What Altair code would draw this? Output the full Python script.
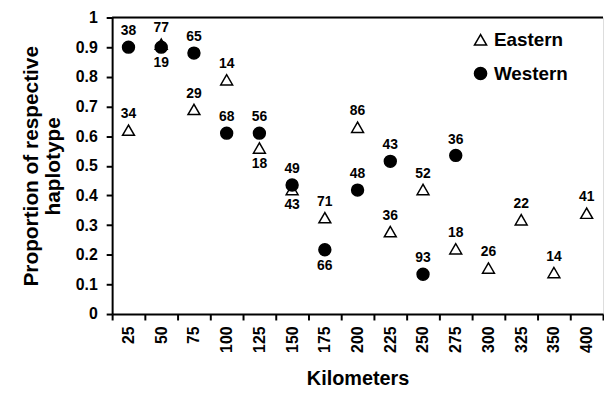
import altair as alt
import pandas as pd

km = ["25", "50", "75", "100", "125", "150", "175", "200", "225", "250",
      "275", "300", "325", "350", "400"]

eastern = [0.62, 0.91, 0.69, 0.79, 0.56, 0.42, 0.325, 0.63, 0.278, 0.42,
           0.22, 0.155, 0.318, 0.14, 0.34]
eastern_n = [34, 77, 29, 14, 18, 43, 71, 86, 36, 52, 18, 26, 22, 14, 41]
eastern_pos = ["above", "above", "above", "above", "below", "below", "above",
               "above", "above", "above", "above", "above", "above", "above", "above"]

western_km = km[:11]
western = [0.90, 0.90, 0.88, 0.61, 0.61, 0.435, 0.217, 0.418, 0.515, 0.134, 0.535]
western_n = [38, 19, 65, 68, 56, 49, 66, 48, 43, 93, 36]
western_pos = ["above", "below", "above", "above", "above", "above", "below",
               "above", "above", "above", "above"]

series = ["Eastern", "Western"]
y_ticks = [0, 0.1, 0.2, 0.3, 0.4, 0.5, 0.6, 0.7, 0.8, 0.9, 1]
frame_top = [1]

rows = []
for k, v, n, p in zip(km, eastern, eastern_n, eastern_pos):
    rows.append(dict(km=k, value=v, n=str(n), pos=p, series="Eastern"))
for k, v, n, p in zip(western_km, western, western_n, western_pos):
    rows.append(dict(km=k, value=v, n=str(n), pos=p, series="Western"))
df = pd.DataFrame(rows)

FONT = "Liberation Sans"
W = 495

x = alt.X(
    "km:N", sort=km,
    scale=alt.Scale(type="band", domain=km, paddingInner=0, paddingOuter=0),
    axis=alt.Axis(
        title="Kilometers", labelAngle=-90, tickBand="extent",
        labelFontSize=16, labelFontWeight="bold", labelFont=FONT, labelColor="black",
        labelPadding=6, tickSize=6, tickColor="black", tickWidth=2, ticks=True,
        domainColor="black", domainWidth=2, labelOverlap=False,
        titleFontSize=20, titleFontWeight="bold", titleFont=FONT, titleColor="black",
        titlePadding=16,
    ),
)

y_axis = alt.Axis(
    title=["Proportion of respective", "haplotype"], values=y_ticks, format="~g",
    grid=False,
    labelFontSize=16, labelFontWeight="bold", labelFont=FONT,
    labelColor="black", labelPadding=9, tickSize=6, tickColor="black", tickWidth=2,
    domainColor="black", domainWidth=2, labelOverlap=False,
    titleFontSize=21, titleFontWeight="bold", titleFont=FONT, titleColor="black",
    titlePadding=12, titleLineHeight=22,
)
y_scale = alt.Scale(domain=[0, 1], nice=False)
y = alt.Y("value:Q", scale=y_scale, axis=y_axis)

legend = alt.Legend(
    title=None, orient="none", legendX=362, legendY=13, labelFontSize=19,
    labelFont=FONT, labelFontWeight="bold", labelColor="black", symbolSize=150,
    symbolStrokeColor="black", symbolStrokeWidth=1.5, rowPadding=14, labelOffset=4,
)

base = alt.Chart(df)

points = base.mark_point(filled=True, size=144, stroke="black", strokeWidth=1.5, opacity=1).encode(
    x=x, y=y,
    shape=alt.Shape("series:N", scale=alt.Scale(domain=series, range=["triangle-up", "circle"]), legend=legend),
    color=alt.Color("series:N", scale=alt.Scale(domain=series, range=["white", "black"]), legend=legend),
)

text_above = base.transform_filter(alt.datum.pos == "above").mark_text(
    dy=-16, fontSize=14, fontWeight="bold", font=FONT, color="black"
).encode(x=x, y=y, text="n:N")

text_below = base.transform_filter(alt.datum.pos == "below").mark_text(
    dy=16, fontSize=14, fontWeight="bold", font=FONT, color="black"
).encode(x=x, y=y, text="n:N")

top_rule = alt.Chart(pd.DataFrame({"value": frame_top})).mark_rule(
    color="black", strokeWidth=2
).encode(y=y, x=alt.value(0), x2=alt.value(W))

chart = alt.layer(points, text_above, text_below, top_rule).properties(
    width=W, height=299, padding={"left": 12, "top": 0, "right": 0, "bottom": 0}
).configure_view(stroke=None).configure(font=FONT)

chart.save("out.html", embed_options={"renderer": "svg", "actions": False})
